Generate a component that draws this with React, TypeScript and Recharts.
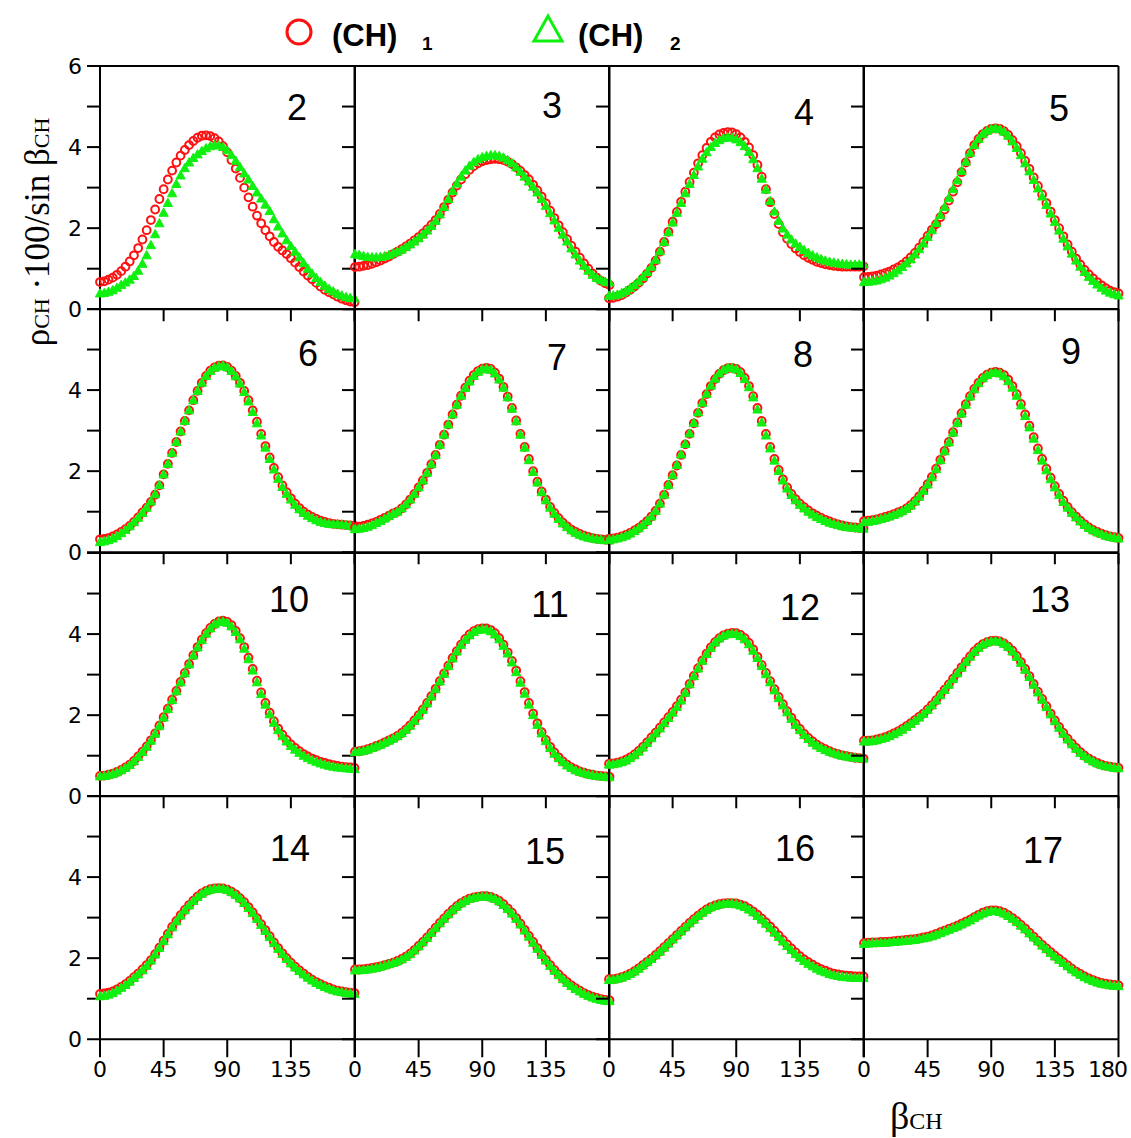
import React from "react"
import { ScatterChart, Scatter, XAxis, YAxis, ReferenceLine } from "recharts"

// beta_CH in degrees, shared by every panel
const BETA = [
  0, 3, 6, 9, 12, 15, 18, 21, 24, 27, 30, 33, 36, 39, 42, 45, 48, 51, 54, 57, 60,
  63, 66, 69, 72, 75, 78, 81, 84, 87, 90, 93, 96, 99, 102, 105, 108, 111, 114, 117, 120,
  123, 126, 129, 132, 135, 138, 141, 144, 147, 150, 153, 156, 159, 162, 165, 168, 171, 174, 177, 180,
]

const X_TICKS = [0, 45, 90, 135, 180]
const Y_TICKS = [0, 1, 2, 3, 4, 5, 6]

// (CH)1 = red circles, (CH)2 = green triangles
const R2 = [0.67, 0.69, 0.73, 0.78, 0.85, 0.94, 1.05, 1.18, 1.33, 1.51, 1.72, 1.95, 2.2, 2.46, 2.72, 2.96, 3.2, 3.42, 3.62, 3.79, 3.93, 4.05, 4.15, 4.23, 4.28, 4.29, 4.27, 4.22, 4.14, 4.02, 3.87, 3.68, 3.47, 3.24, 3.0, 2.76, 2.53, 2.31, 2.12, 1.95, 1.8, 1.66, 1.54, 1.45, 1.36, 1.26, 1.15, 1.04, 0.93, 0.83, 0.74, 0.65, 0.56, 0.48, 0.42, 0.37, 0.31, 0.26, 0.22, 0.19, 0.17]
const G2 = [0.39, 0.4, 0.43, 0.47, 0.53, 0.6, 0.66, 0.73, 0.82, 0.95, 1.12, 1.33, 1.58, 1.85, 2.12, 2.38, 2.62, 2.86, 3.09, 3.3, 3.48, 3.62, 3.73, 3.82, 3.9, 3.97, 4.02, 4.05, 4.04, 4.0, 3.92, 3.8, 3.66, 3.51, 3.35, 3.2, 3.04, 2.88, 2.73, 2.58, 2.42, 2.22, 2.04, 1.87, 1.7, 1.56, 1.42, 1.28, 1.14, 1.0, 0.88, 0.77, 0.67, 0.58, 0.5, 0.44, 0.38, 0.34, 0.3, 0.28, 0.27]

const R3 = [1.04, 1.05, 1.07, 1.09, 1.12, 1.16, 1.2, 1.25, 1.3, 1.36, 1.42, 1.48, 1.55, 1.62, 1.7, 1.78, 1.87, 1.97, 2.08, 2.2, 2.35, 2.52, 2.7, 2.88, 3.05, 3.2, 3.33, 3.44, 3.53, 3.6, 3.65, 3.68, 3.7, 3.71, 3.7, 3.68, 3.64, 3.58, 3.5, 3.41, 3.31, 3.2, 3.07, 2.93, 2.78, 2.61, 2.43, 2.25, 2.07, 1.9, 1.73, 1.57, 1.42, 1.27, 1.13, 1.0, 0.88, 0.78, 0.7, 0.64, 0.6]
const G3 = [1.36, 1.34, 1.31, 1.29, 1.28, 1.28, 1.29, 1.31, 1.34, 1.38, 1.42, 1.47, 1.53, 1.6, 1.67, 1.75, 1.84, 1.94, 2.05, 2.18, 2.34, 2.52, 2.72, 2.92, 3.1, 3.27, 3.42, 3.54, 3.63, 3.7, 3.75, 3.78, 3.8, 3.8, 3.78, 3.74, 3.68, 3.6, 3.5, 3.39, 3.27, 3.15, 3.02, 2.88, 2.72, 2.55, 2.37, 2.19, 2.01, 1.84, 1.67, 1.5, 1.35, 1.2, 1.07, 0.95, 0.85, 0.77, 0.72, 0.68, 0.66]

const R4 = [0.27, 0.28, 0.31, 0.35, 0.41, 0.48, 0.56, 0.65, 0.76, 0.88, 1.02, 1.2, 1.42, 1.66, 1.91, 2.16, 2.4, 2.65, 2.9, 3.14, 3.37, 3.6, 3.8, 3.98, 4.13, 4.24, 4.31, 4.35, 4.37, 4.36, 4.32, 4.24, 4.13, 3.99, 3.8, 3.56, 3.27, 2.96, 2.64, 2.35, 2.1, 1.9, 1.74, 1.61, 1.5, 1.41, 1.33, 1.27, 1.22, 1.17, 1.14, 1.11, 1.09, 1.07, 1.06, 1.05, 1.05, 1.05, 1.05, 1.05, 1.06]
const G4 = [0.33, 0.34, 0.36, 0.4, 0.45, 0.52, 0.6, 0.69, 0.8, 0.92, 1.05, 1.22, 1.43, 1.66, 1.9, 2.14, 2.38, 2.62, 2.86, 3.09, 3.31, 3.52, 3.71, 3.87, 4.0, 4.1, 4.17, 4.22, 4.24, 4.23, 4.19, 4.12, 4.02, 3.88, 3.7, 3.48, 3.22, 2.95, 2.67, 2.41, 2.18, 1.99, 1.84, 1.72, 1.62, 1.54, 1.46, 1.39, 1.33, 1.28, 1.24, 1.2, 1.17, 1.15, 1.13, 1.12, 1.11, 1.1, 1.1, 1.1, 1.11]

const R5 = [0.79, 0.8, 0.81, 0.83, 0.86, 0.89, 0.93, 0.98, 1.03, 1.1, 1.18, 1.28, 1.39, 1.52, 1.66, 1.81, 1.96, 2.1, 2.27, 2.46, 2.68, 2.9, 3.13, 3.38, 3.62, 3.85, 4.05, 4.2, 4.32, 4.4, 4.45, 4.46, 4.45, 4.39, 4.3, 4.17, 4.02, 3.85, 3.66, 3.46, 3.25, 3.04, 2.83, 2.62, 2.41, 2.2, 2.0, 1.8, 1.6, 1.42, 1.25, 1.1, 0.97, 0.86, 0.76, 0.67, 0.59, 0.52, 0.46, 0.42, 0.39]
const G5 = [0.67, 0.68, 0.69, 0.71, 0.74, 0.78, 0.83, 0.89, 0.96, 1.04, 1.13, 1.23, 1.35, 1.48, 1.62, 1.78, 1.95, 2.13, 2.32, 2.52, 2.74, 2.96, 3.18, 3.41, 3.64, 3.86, 4.05, 4.2, 4.32, 4.4, 4.45, 4.46, 4.44, 4.38, 4.28, 4.14, 3.98, 3.8, 3.6, 3.4, 3.19, 2.98, 2.78, 2.57, 2.36, 2.15, 1.94, 1.74, 1.55, 1.37, 1.2, 1.05, 0.92, 0.8, 0.7, 0.61, 0.53, 0.46, 0.41, 0.37, 0.34]

const R6 = [0.32, 0.33, 0.35, 0.39, 0.44, 0.5, 0.57, 0.65, 0.75, 0.86, 0.98, 1.1, 1.24, 1.42, 1.65, 1.92, 2.18, 2.45, 2.72, 2.98, 3.24, 3.5, 3.75, 3.98, 4.18, 4.35, 4.48, 4.56, 4.6, 4.61, 4.57, 4.48, 4.35, 4.18, 3.98, 3.75, 3.5, 3.22, 2.92, 2.62, 2.34, 2.08, 1.85, 1.65, 1.48, 1.33, 1.2, 1.09, 1.0, 0.93, 0.87, 0.82, 0.78, 0.75, 0.72, 0.7, 0.69, 0.68, 0.67, 0.66, 0.65]
const G6 = [0.25, 0.27, 0.3, 0.34, 0.4, 0.47, 0.55, 0.64, 0.74, 0.85, 0.97, 1.1, 1.25, 1.43, 1.66, 1.92, 2.18, 2.45, 2.72, 2.98, 3.24, 3.5, 3.75, 3.98, 4.18, 4.35, 4.47, 4.55, 4.59, 4.6, 4.56, 4.47, 4.34, 4.16, 3.95, 3.72, 3.46, 3.18, 2.88, 2.58, 2.3, 2.04, 1.81, 1.61, 1.44, 1.3, 1.17, 1.06, 0.97, 0.9, 0.84, 0.79, 0.75, 0.72, 0.7, 0.69, 0.69, 0.68, 0.67, 0.65, 0.63]

const R7 = [0.62, 0.63, 0.65, 0.68, 0.71, 0.75, 0.8, 0.85, 0.9, 0.96, 1.0, 1.08, 1.18, 1.3, 1.44, 1.6, 1.77, 1.96, 2.17, 2.4, 2.65, 2.9, 3.15, 3.4, 3.64, 3.86, 4.06, 4.23, 4.37, 4.47, 4.53, 4.55, 4.52, 4.43, 4.28, 4.08, 3.84, 3.56, 3.25, 2.92, 2.6, 2.3, 2.0, 1.74, 1.5, 1.3, 1.12, 0.97, 0.84, 0.73, 0.64, 0.56, 0.5, 0.45, 0.41, 0.38, 0.35, 0.33, 0.32, 0.31, 0.3]
const G7 = [0.57, 0.58, 0.6, 0.63, 0.67, 0.72, 0.77, 0.83, 0.89, 0.95, 1.0, 1.08, 1.18, 1.3, 1.44, 1.6, 1.77, 1.96, 2.17, 2.4, 2.65, 2.9, 3.15, 3.4, 3.64, 3.86, 4.05, 4.21, 4.35, 4.45, 4.51, 4.53, 4.5, 4.41, 4.26, 4.06, 3.82, 3.54, 3.23, 2.9, 2.58, 2.27, 1.98, 1.72, 1.48, 1.28, 1.1, 0.95, 0.82, 0.71, 0.62, 0.54, 0.48, 0.43, 0.39, 0.36, 0.34, 0.32, 0.31, 0.3, 0.29]

const R8 = [0.33, 0.34, 0.36, 0.39, 0.43, 0.48, 0.54, 0.6, 0.68, 0.77, 0.88, 1.02, 1.2, 1.42, 1.66, 1.9, 2.14, 2.4, 2.66, 2.92, 3.18, 3.44, 3.68, 3.9, 4.1, 4.27, 4.4, 4.49, 4.54, 4.55, 4.52, 4.44, 4.3, 4.1, 3.85, 3.56, 3.24, 2.92, 2.6, 2.3, 2.03, 1.8, 1.6, 1.44, 1.31, 1.2, 1.11, 1.03, 0.96, 0.9, 0.85, 0.8, 0.76, 0.72, 0.69, 0.66, 0.64, 0.62, 0.61, 0.6, 0.59]
const G8 = [0.31, 0.32, 0.34, 0.37, 0.41, 0.46, 0.52, 0.59, 0.67, 0.77, 0.88, 1.02, 1.2, 1.42, 1.66, 1.9, 2.15, 2.41, 2.67, 2.93, 3.19, 3.45, 3.69, 3.91, 4.11, 4.28, 4.41, 4.5, 4.55, 4.55, 4.51, 4.42, 4.27, 4.07, 3.82, 3.52, 3.2, 2.88, 2.56, 2.26, 2.0, 1.77, 1.57, 1.41, 1.28, 1.17, 1.08, 1.0, 0.93, 0.87, 0.82, 0.77, 0.73, 0.7, 0.67, 0.64, 0.62, 0.61, 0.6, 0.59, 0.58]

const R9 = [0.77, 0.78, 0.79, 0.81, 0.84, 0.87, 0.9, 0.94, 0.98, 1.02, 1.08, 1.16, 1.26, 1.38, 1.52, 1.68, 1.86, 2.06, 2.28, 2.5, 2.72, 2.96, 3.2, 3.43, 3.65, 3.85, 4.03, 4.18, 4.3, 4.38, 4.43, 4.45, 4.43, 4.37, 4.26, 4.1, 3.9, 3.66, 3.4, 3.12, 2.84, 2.56, 2.3, 2.06, 1.84, 1.63, 1.44, 1.27, 1.12, 0.99, 0.88, 0.78, 0.69, 0.61, 0.55, 0.5, 0.46, 0.42, 0.39, 0.37, 0.35]
const G9 = [0.74, 0.75, 0.77, 0.79, 0.82, 0.85, 0.88, 0.92, 0.96, 1.01, 1.07, 1.15, 1.25, 1.37, 1.51, 1.67, 1.85, 2.05, 2.27, 2.49, 2.71, 2.95, 3.19, 3.42, 3.64, 3.84, 4.02, 4.17, 4.29, 4.37, 4.42, 4.43, 4.41, 4.34, 4.22, 4.06, 3.86, 3.62, 3.36, 3.08, 2.8, 2.52, 2.26, 2.02, 1.8, 1.6, 1.41, 1.24, 1.1, 0.97, 0.86, 0.76, 0.67, 0.6, 0.54, 0.49, 0.45, 0.41, 0.38, 0.36, 0.34]

const R10 = [0.5, 0.51, 0.53, 0.56, 0.6, 0.65, 0.71, 0.78, 0.87, 0.98, 1.1, 1.23, 1.38, 1.55, 1.74, 1.95, 2.16, 2.38, 2.6, 2.82, 3.04, 3.26, 3.48, 3.68, 3.86, 4.02, 4.15, 4.25, 4.31, 4.33, 4.3, 4.22, 4.08, 3.9, 3.68, 3.42, 3.14, 2.85, 2.56, 2.3, 2.06, 1.85, 1.67, 1.52, 1.39, 1.28, 1.19, 1.11, 1.04, 0.98, 0.93, 0.89, 0.85, 0.82, 0.79, 0.77, 0.75, 0.73, 0.72, 0.71, 0.7]
const G10 = [0.49, 0.5, 0.52, 0.55, 0.59, 0.64, 0.7, 0.77, 0.86, 0.97, 1.09, 1.22, 1.37, 1.54, 1.73, 1.94, 2.15, 2.37, 2.59, 2.81, 3.03, 3.25, 3.47, 3.67, 3.85, 4.01, 4.14, 4.24, 4.3, 4.31, 4.28, 4.19, 4.05, 3.87, 3.64, 3.38, 3.1, 2.81, 2.52, 2.26, 2.02, 1.81, 1.63, 1.48, 1.35, 1.24, 1.15, 1.07, 1.0, 0.94, 0.89, 0.85, 0.81, 0.78, 0.75, 0.73, 0.71, 0.7, 0.69, 0.68, 0.67]

const R11 = [1.1, 1.11, 1.13, 1.16, 1.2, 1.24, 1.28, 1.33, 1.38, 1.43, 1.49, 1.56, 1.65, 1.75, 1.87, 2.0, 2.14, 2.3, 2.47, 2.65, 2.84, 3.03, 3.22, 3.41, 3.58, 3.74, 3.88, 3.99, 4.07, 4.12, 4.14, 4.14, 4.1, 4.02, 3.9, 3.74, 3.55, 3.34, 3.1, 2.84, 2.57, 2.3, 2.04, 1.8, 1.58, 1.39, 1.22, 1.08, 0.96, 0.86, 0.78, 0.71, 0.66, 0.61, 0.58, 0.55, 0.53, 0.51, 0.5, 0.49, 0.48]
const G11 = [1.09, 1.1, 1.12, 1.15, 1.19, 1.23, 1.27, 1.32, 1.37, 1.42, 1.48, 1.55, 1.64, 1.74, 1.86, 1.99, 2.13, 2.29, 2.46, 2.64, 2.83, 3.02, 3.21, 3.4, 3.57, 3.73, 3.86, 3.97, 4.05, 4.1, 4.12, 4.11, 4.07, 3.99, 3.87, 3.71, 3.52, 3.3, 3.06, 2.8, 2.53, 2.26, 2.0, 1.76, 1.55, 1.36, 1.19, 1.05, 0.94, 0.84, 0.76, 0.7, 0.64, 0.6, 0.57, 0.54, 0.52, 0.5, 0.49, 0.48, 0.47]

const R12 = [0.8, 0.81, 0.83, 0.86, 0.9, 0.96, 1.03, 1.12, 1.22, 1.33, 1.45, 1.57, 1.69, 1.82, 1.95, 2.08, 2.22, 2.38, 2.56, 2.77, 2.97, 3.16, 3.35, 3.52, 3.67, 3.8, 3.9, 3.97, 4.01, 4.03, 4.02, 3.98, 3.9, 3.78, 3.62, 3.44, 3.24, 3.04, 2.84, 2.64, 2.45, 2.27, 2.1, 1.94, 1.79, 1.66, 1.54, 1.44, 1.35, 1.27, 1.21, 1.16, 1.11, 1.07, 1.04, 1.01, 0.99, 0.97, 0.95, 0.94, 0.93]
const G12 = [0.78, 0.79, 0.81, 0.84, 0.88, 0.94, 1.01, 1.1, 1.2, 1.31, 1.43, 1.55, 1.67, 1.8, 1.93, 2.06, 2.2, 2.36, 2.55, 2.76, 2.96, 3.15, 3.34, 3.51, 3.66, 3.79, 3.89, 3.96, 4.0, 4.01, 4.0, 3.95, 3.87, 3.75, 3.59, 3.41, 3.21, 3.01, 2.81, 2.61, 2.42, 2.24, 2.07, 1.91, 1.76, 1.63, 1.51, 1.41, 1.32, 1.25, 1.19, 1.14, 1.1, 1.06, 1.03, 1.0, 0.98, 0.96, 0.95, 0.94, 0.93]

const R13 = [1.37, 1.37, 1.38, 1.4, 1.43, 1.46, 1.5, 1.55, 1.6, 1.66, 1.73, 1.8, 1.88, 1.96, 2.04, 2.14, 2.25, 2.37, 2.5, 2.63, 2.76, 2.9, 3.04, 3.18, 3.32, 3.45, 3.57, 3.67, 3.75, 3.8, 3.83, 3.84, 3.82, 3.77, 3.69, 3.59, 3.46, 3.31, 3.14, 2.96, 2.77, 2.58, 2.4, 2.22, 2.04, 1.87, 1.71, 1.56, 1.42, 1.3, 1.19, 1.09, 1.0, 0.93, 0.87, 0.82, 0.78, 0.75, 0.73, 0.71, 0.7]
const G13 = [1.35, 1.35, 1.36, 1.38, 1.41, 1.44, 1.48, 1.53, 1.58, 1.64, 1.71, 1.78, 1.86, 1.94, 2.03, 2.13, 2.24, 2.36, 2.49, 2.62, 2.75, 2.89, 3.03, 3.17, 3.31, 3.44, 3.56, 3.66, 3.74, 3.79, 3.82, 3.83, 3.81, 3.76, 3.68, 3.57, 3.44, 3.29, 3.12, 2.94, 2.75, 2.56, 2.38, 2.2, 2.02, 1.85, 1.69, 1.54, 1.4, 1.28, 1.17, 1.07, 0.99, 0.92, 0.86, 0.81, 0.77, 0.74, 0.72, 0.7, 0.69]

const R14 = [1.12, 1.13, 1.15, 1.18, 1.23, 1.29, 1.36, 1.44, 1.53, 1.62, 1.72, 1.83, 1.95, 2.1, 2.26, 2.43, 2.6, 2.77, 2.92, 3.06, 3.19, 3.31, 3.42, 3.52, 3.6, 3.66, 3.7, 3.72, 3.73, 3.72, 3.69, 3.64, 3.57, 3.48, 3.38, 3.26, 3.13, 2.99, 2.84, 2.69, 2.54, 2.39, 2.25, 2.12, 2.0, 1.89, 1.79, 1.7, 1.62, 1.54, 1.47, 1.41, 1.36, 1.31, 1.27, 1.23, 1.2, 1.18, 1.16, 1.15, 1.14]
const G14 = [1.06, 1.07, 1.1, 1.14, 1.2, 1.27, 1.34, 1.42, 1.51, 1.6, 1.7, 1.81, 1.94, 2.09, 2.25, 2.42, 2.59, 2.76, 2.91, 3.05, 3.18, 3.3, 3.41, 3.51, 3.59, 3.65, 3.69, 3.71, 3.72, 3.71, 3.68, 3.63, 3.56, 3.47, 3.36, 3.24, 3.11, 2.97, 2.82, 2.67, 2.52, 2.37, 2.23, 2.1, 1.98, 1.87, 1.77, 1.68, 1.6, 1.52, 1.45, 1.39, 1.34, 1.29, 1.25, 1.21, 1.18, 1.16, 1.14, 1.13, 1.12]

const R15 = [1.72, 1.72, 1.73, 1.74, 1.76, 1.78, 1.8, 1.83, 1.86, 1.89, 1.93, 1.98, 2.04, 2.11, 2.2, 2.3, 2.4, 2.51, 2.63, 2.75, 2.87, 2.98, 3.09, 3.19, 3.28, 3.36, 3.42, 3.47, 3.5, 3.52, 3.53, 3.53, 3.51, 3.47, 3.41, 3.33, 3.23, 3.12, 2.99, 2.85, 2.7, 2.55, 2.4, 2.25, 2.1, 1.96, 1.83, 1.71, 1.6, 1.5, 1.41, 1.33, 1.26, 1.2, 1.14, 1.09, 1.05, 1.02, 0.99, 0.97, 0.96]
const G15 = [1.7, 1.7, 1.71, 1.72, 1.74, 1.76, 1.79, 1.82, 1.85, 1.88, 1.92, 1.97, 2.03, 2.1, 2.19, 2.29, 2.39, 2.5, 2.62, 2.74, 2.86, 2.97, 3.08, 3.18, 3.27, 3.35, 3.41, 3.46, 3.49, 3.51, 3.52, 3.52, 3.5, 3.46, 3.4, 3.31, 3.21, 3.1, 2.97, 2.83, 2.68, 2.53, 2.38, 2.23, 2.08, 1.94, 1.81, 1.69, 1.58, 1.48, 1.39, 1.31, 1.24, 1.18, 1.12, 1.07, 1.03, 1.0, 0.97, 0.95, 0.94]

const R16 = [1.48, 1.48, 1.5, 1.53, 1.57, 1.62, 1.68, 1.75, 1.83, 1.91, 1.99, 2.08, 2.17, 2.27, 2.37, 2.47, 2.57, 2.67, 2.77, 2.87, 2.96, 3.05, 3.13, 3.2, 3.26, 3.3, 3.33, 3.35, 3.36, 3.36, 3.35, 3.32, 3.28, 3.22, 3.15, 3.07, 2.98, 2.88, 2.78, 2.67, 2.56, 2.45, 2.34, 2.24, 2.14, 2.05, 1.97, 1.9, 1.84, 1.78, 1.73, 1.69, 1.65, 1.62, 1.6, 1.58, 1.57, 1.56, 1.55, 1.55, 1.55]
const G16 = [1.46, 1.47, 1.49, 1.52, 1.56, 1.61, 1.67, 1.74, 1.82, 1.9, 1.98, 2.07, 2.16, 2.26, 2.36, 2.46, 2.56, 2.66, 2.76, 2.86, 2.95, 3.04, 3.12, 3.19, 3.25, 3.29, 3.32, 3.34, 3.35, 3.35, 3.33, 3.3, 3.26, 3.2, 3.13, 3.04, 2.95, 2.85, 2.74, 2.63, 2.52, 2.41, 2.3, 2.2, 2.1, 2.01, 1.93, 1.86, 1.8, 1.74, 1.69, 1.65, 1.61, 1.58, 1.56, 1.54, 1.53, 1.52, 1.51, 1.51, 1.51]

const R17 = [2.37, 2.38, 2.39, 2.39, 2.4, 2.4, 2.41, 2.42, 2.43, 2.44, 2.45, 2.46, 2.47, 2.49, 2.51, 2.53, 2.56, 2.6, 2.64, 2.68, 2.72, 2.76, 2.8, 2.85, 2.9, 2.95, 3.01, 3.07, 3.12, 3.16, 3.18, 3.18, 3.16, 3.12, 3.06, 2.99, 2.91, 2.82, 2.73, 2.63, 2.53, 2.43, 2.33, 2.24, 2.15, 2.06, 1.98, 1.9, 1.82, 1.74, 1.67, 1.61, 1.55, 1.5, 1.46, 1.42, 1.39, 1.37, 1.35, 1.34, 1.33]
const G17 = [2.35, 2.36, 2.37, 2.37, 2.38, 2.38, 2.39, 2.4, 2.41, 2.42, 2.43, 2.44, 2.45, 2.47, 2.49, 2.51, 2.54, 2.58, 2.62, 2.66, 2.7, 2.74, 2.78, 2.83, 2.88, 2.93, 2.99, 3.05, 3.1, 3.14, 3.16, 3.16, 3.14, 3.1, 3.04, 2.97, 2.89, 2.8, 2.71, 2.61, 2.51, 2.41, 2.31, 2.22, 2.13, 2.04, 1.96, 1.88, 1.8, 1.72, 1.65, 1.59, 1.53, 1.48, 1.44, 1.4, 1.37, 1.35, 1.33, 1.32, 1.31]

const PANELS = [
  { n: "2", red: R2, green: G2 },
  { n: "3", red: R3, green: G3 },
  { n: "4", red: R4, green: G4 },
  { n: "5", red: R5, green: G5 },
  { n: "6", red: R6, green: G6 },
  { n: "7", red: R7, green: G7 },
  { n: "8", red: R8, green: G8 },
  { n: "9", red: R9, green: G9 },
  { n: "10", red: R10, green: G10 },
  { n: "11", red: R11, green: G11 },
  { n: "12", red: R12, green: G12 },
  { n: "13", red: R13, green: G13 },
  { n: "14", red: R14, green: G14 },
  { n: "15", red: R15, green: G15 },
  { n: "16", red: R16, green: G16 },
  { n: "17", red: R17, green: G17 },
]

// page position of each panel number (centre x, baseline y)
const NUMBER_POS = [
  [297, 120], [552, 118], [804, 125], [1059, 121],
  [308, 366], [557, 370], [803, 367], [1071, 364],
  [289, 612], [550, 617], [800, 620], [1050, 612],
  [290, 861], [545, 864], [795, 861], [1043, 863],
]

const RED = "#ff1010"
const GREEN = "#10f010"
const X0 = 100
const Y0 = 66
const PW = 254.5
const PH = 243.25
const ML = 45
const MT = 20
const MR = 20
const MB = 20

const tickFont = { fontFamily: "DejaVu Sans", fontSize: 22, fill: "#000" }

const circleShape = (p: any) => (
  <circle cx={p.cx} cy={p.cy} r={3.9} fill="none" stroke={RED} strokeWidth={2} />
)

const triShape = (p: any) => (
  <polygon
    points={`${p.cx},${p.cy - 4.8} ${p.cx - 4.6},${p.cy + 3.5} ${p.cx + 4.6},${p.cy + 3.5}`}
    fill={GREEN}
    stroke={GREEN}
    strokeWidth={1}
  />
)

function Panel({ idx }: { idx: number }) {
  const row = Math.floor(idx / 4)
  const col = idx % 4
  const p = PANELS[idx]
  const redPts = BETA.map((b, i) => ({ b, v: p.red[i] }))
  const greenPts = BETA.map((b, i) => ({ b, v: p.green[i] }))
  const bottom = row === 3

  const xTick = (t: any) => {
    const v = t.payload.value
    const show = bottom && (v < 180 || col === 3)
    if (!show) return <g />
    return (
      <text
        x={t.x + (v === 180 ? -11 : 0)}
        y={t.y}
        dy="0.71em"
        textAnchor="middle"
        letterSpacing={v === 180 ? -1 : 0}
        {...tickFont}
      >
        {v}
      </text>
    )
  }

  return (
    <div style={{ position: "absolute", left: X0 + col * PW - ML, top: Y0 + row * PH - MT }}>
      <ScatterChart
        width={ML + PW + MR}
        height={MT + PH + 40 + MB}
        margin={{ top: MT, right: MR, bottom: MB, left: 0 }}
      >
        <XAxis
          type="number"
          dataKey="b"
          domain={[0, 180]}
          ticks={X_TICKS}
          interval={0}
          height={40}
          axisLine={{ stroke: "#000", strokeWidth: 2 }}
          tickLine={{ stroke: "#000", strokeWidth: 2 }}
          tickSize={bottom ? 18 : 12}
          tickMargin={4}
          tick={xTick}
        />
        <YAxis
          type="number"
          dataKey="v"
          domain={[0, 6]}
          ticks={Y_TICKS}
          interval={0}
          width={ML}
          axisLine={{ stroke: "#000", strokeWidth: 2 }}
          tickLine={{ stroke: "#000", strokeWidth: 2 }}
          tickSize={13}
          tickMargin={5}
          tick={tickFont}
          tickFormatter={(v: number) =>
            col === 0 && (v === 0 || v === 2 || v === 4 || (v === 6 && row === 0)) ? String(v) : ""
          }
        />
        <ReferenceLine y={6} stroke="#000" strokeWidth={2} />
        <ReferenceLine x={180} stroke="#000" strokeWidth={2} />
        <Scatter data={redPts} shape={circleShape} isAnimationActive={false} />
        <Scatter data={greenPts} shape={triShape} isAnimationActive={false} />
      </ScatterChart>
    </div>
  )
}

export default function App() {
  return (
    <div style={{ position: "absolute", left: 0, top: 0, width: 1131, height: 1138, background: "#fff", overflow: "hidden" }}>
      {PANELS.map((_, i) => (
        <Panel key={i} idx={i} />
      ))}
      <svg
        width={1131}
        height={1138}
        style={{ position: "absolute", left: 0, top: 0, pointerEvents: "none" }}
      >
        {/* legend */}
        <circle cx={299} cy={32} r={12} fill="none" stroke={RED} strokeWidth={3} />
        <text x={332} y={46} fontFamily="Liberation Sans" fontWeight="bold" fontSize={31}>(CH)</text>
        <text x={422} y={50} fontFamily="Liberation Sans" fontWeight="bold" fontSize={19}>1</text>
        <polygon points="548,16 534,41 562,41" fill="none" stroke={GREEN} strokeWidth={3} />
        <text x={578} y={46} fontFamily="Liberation Sans" fontWeight="bold" fontSize={31}>(CH)</text>
        <text x={670} y={50} fontFamily="Liberation Sans" fontWeight="bold" fontSize={19}>2</text>

        {/* panel numbers */}
        {PANELS.map((p, i) => (
          <text
            key={p.n}
            x={NUMBER_POS[i][0]}
            y={NUMBER_POS[i][1]}
            textAnchor="middle"
            fontFamily="Liberation Sans"
            fontSize={36}
          >
            {p.n}
          </text>
        ))}

        {/* axis titles */}
        <text
          transform="translate(49,232) rotate(-90)"
          textAnchor="middle"
          fontFamily="Liberation Serif"
          fontSize={35}
        >
          ρ<tspan fontSize={22}>CH</tspan> ·100/sin β<tspan fontSize={22}>CH</tspan>
        </text>
        <text x={890} y={1129} fontFamily="Liberation Serif" fontSize={38}>
          β<tspan fontSize={24}>CH</tspan>
        </text>
      </svg>
    </div>
  )
}
